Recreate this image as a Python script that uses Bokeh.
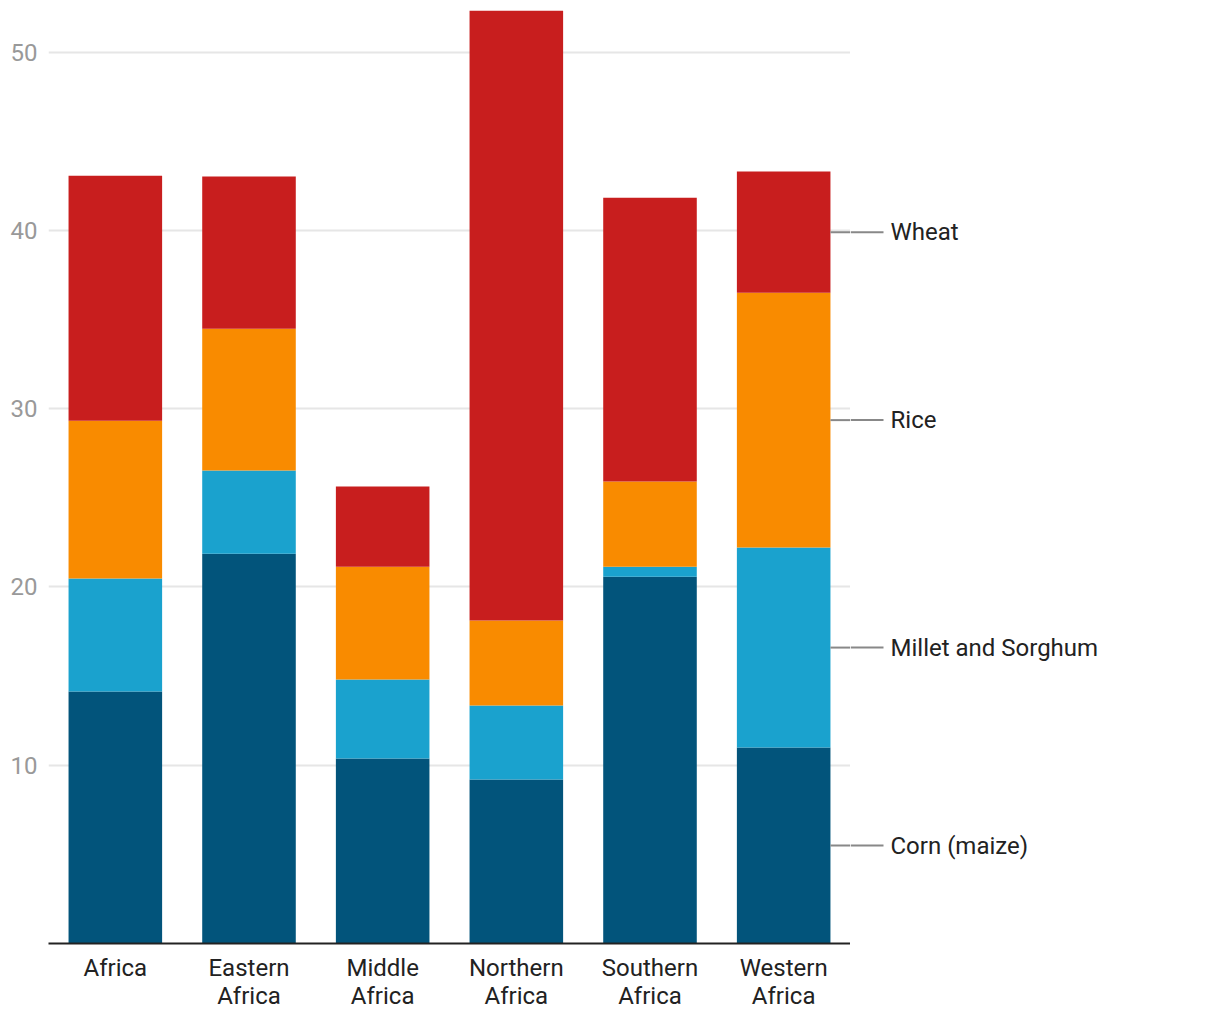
from bokeh.plotting import figure
from bokeh.models import Range1d, FactorRange, FixedTicker
from bokeh.layouts import row
from bokeh.core.properties import value
from bokeh.embed import file_html
from bokeh.resources import INLINE

regions = ["Africa", "Eastern\nAfrica", "Middle\nAfrica", "Northern\nAfrica", "Southern\nAfrica", "Western\nAfrica"]
crops = ["Corn (maize)", "Millet and Sorghum", "Rice", "Wheat"]
corn = [14.13, 21.87, 10.38, 9.20, 20.58, 10.99]
millet = [6.34, 4.66, 4.43, 4.15, 0.56, 11.22]
rice = [8.86, 7.96, 6.33, 4.77, 4.77, 14.30]
wheat = [13.74, 8.53, 4.49, 34.21, 15.93, 6.79]
colors = ["#02547B", "#1AA2CE", "#F98B00", "#C81E1E"]
yticks = [10, 20, 30, 40, 50]

FONT = "Roboto"
BAR_W = 0.7
H = 1016
TOP = 8
BOTTOM = 73
LEFT = 48
W1 = 850
W2 = 358
y_range = Range1d(0, 52.45)

p = figure(width=W1, height=H, x_range=FactorRange(*regions), y_range=y_range,
           output_backend="svg", toolbar_location=None,
           min_border_left=LEFT, min_border_right=0, min_border_top=TOP, min_border_bottom=BOTTOM)
p.outline_line_color = None

data = dict(region=regions, c0=corn, c1=millet, c2=rice, c3=wheat)
p.vbar_stack(["c0", "c1", "c2", "c3"], x="region", width=BAR_W, color=colors, line_width=0, source=data)

# axes
p.yaxis.ticker = FixedTicker(ticks=yticks)
p.yaxis.axis_line_color = None
p.yaxis.major_tick_line_color = None
p.yaxis.major_tick_out = 0
p.yaxis.major_tick_in = 0
p.yaxis.minor_tick_line_color = None
p.yaxis.major_label_text_font = FONT
p.yaxis.major_label_text_font_size = "24px"
p.yaxis.major_label_text_color = "#999999"
p.yaxis.major_label_standoff = 11

p.xaxis.axis_line_color = "#222222"
p.xaxis.axis_line_width = 2
p.xaxis.major_tick_line_color = None
p.xaxis.major_tick_out = 0
p.xaxis.major_tick_in = 0
p.xaxis.minor_tick_line_color = None
p.xaxis.major_label_text_font = FONT
p.xaxis.major_label_text_font_size = "24px"
p.xaxis.major_label_text_color = "#222222"
p.xaxis.major_label_text_line_height = 1.0
p.xaxis.major_label_standoff = 10

p.xgrid.grid_line_color = None
p.ygrid.ticker = FixedTicker(ticks=yticks)
p.ygrid.grid_line_color = "#e6e6e6"
p.ygrid.grid_line_width = 2

# midpoints of last bar's segments for the series labels
last = len(regions) - 1
series = [corn, millet, rice, wheat]
mids = []
base = 0.0
for vals in series:
    mids.append(base + vals[last] / 2)
    base += vals[last]

# connector part inside the chart frame (bar edge -> frame edge)
bar_right = last + 0.5 + BAR_W / 2
p.segment(x0=[bar_right] * len(mids), x1=[float(len(regions))] * len(mids), y0=mids, y1=mids,
          line_color="#888888", line_width=2)

# right panel for labels, sharing the y range
q = figure(width=W2, height=H, x_range=Range1d(0, W2), y_range=y_range,
           x_axis_type=None, y_axis_type=None, output_backend="svg", toolbar_location=None,
           min_border_left=0, min_border_right=0, min_border_top=TOP, min_border_bottom=BOTTOM)
q.outline_line_color = None
q.grid.visible = False
q.segment(x0=[0] * len(mids), x1=[33] * len(mids), y0=mids, y1=mids, line_color="#888888", line_width=2)
q.text(x=[40] * len(mids), y=mids, text=crops, text_font=value(FONT), text_font_size="24px",
       text_color="#222222", text_baseline="middle", text_align="left")

layout = row(p, q, spacing=0)
open("out.html", "w").write(file_html(layout, INLINE))
